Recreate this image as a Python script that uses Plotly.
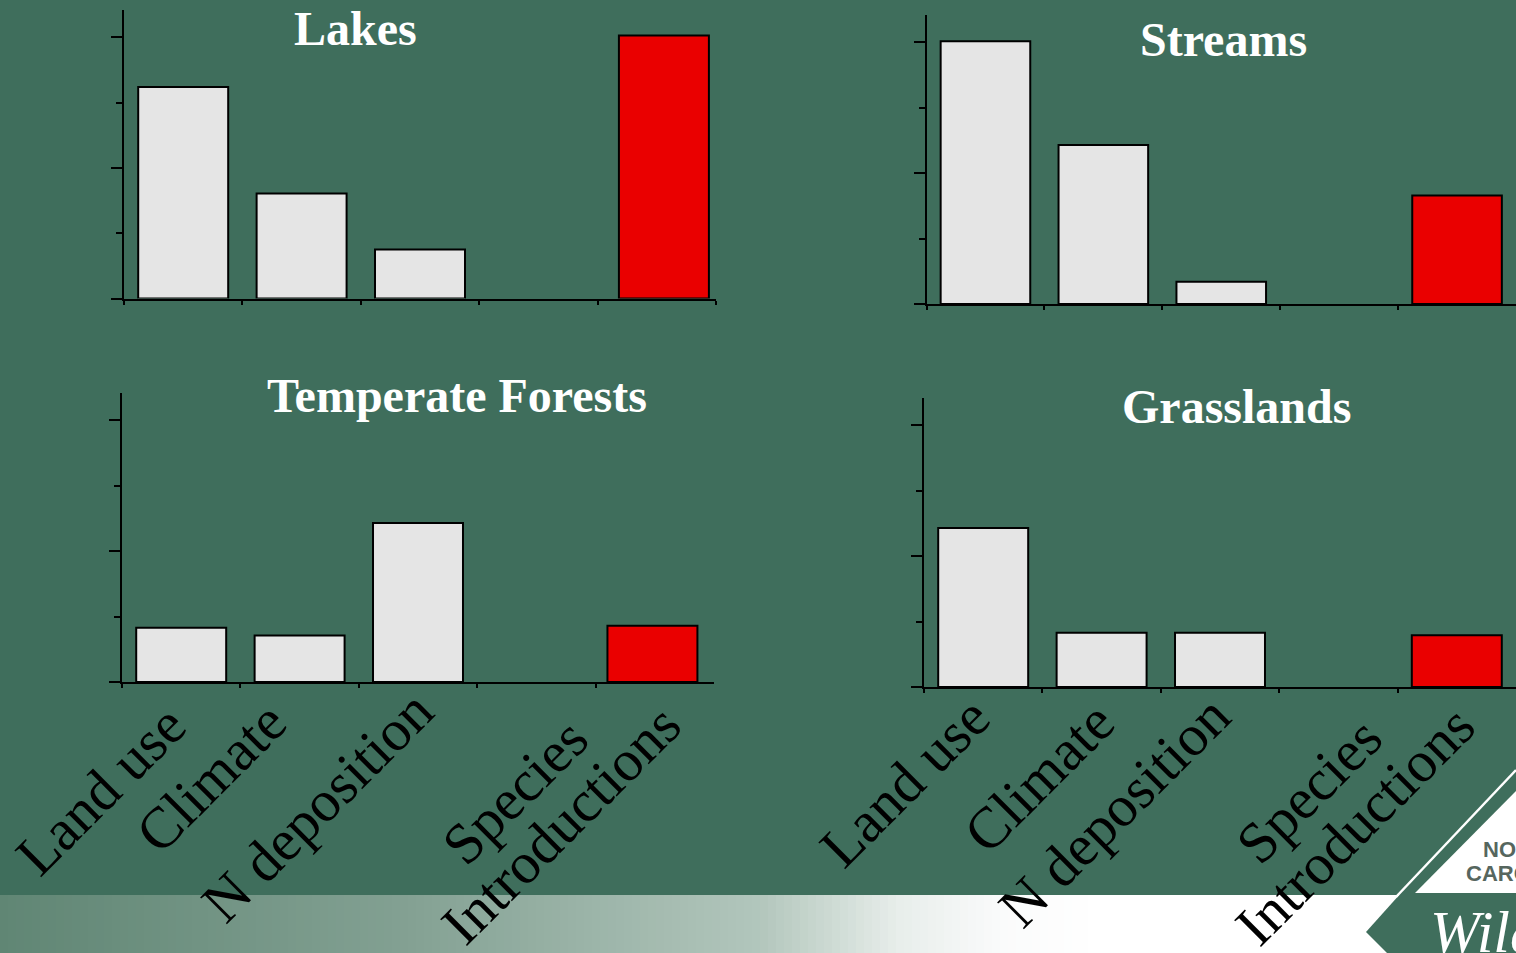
import numpy as np
import plotly.graph_objects as go

# ---------------- data ----------------
categories = ["Land use", "Climate", "N deposition", "Biotic exchange", "Species Introductions"]
lakes = [3.24, 1.61, 0.75, None, 4.03]
streams = [4.02, 2.43, 0.34, None, 1.66]
forests = [0.83, 0.71, 2.43, None, 0.86]
grasslands = [2.43, 0.83, 0.83, None, 0.79]
panel_titles = ["Lakes", "Streams", "Temperate Forests", "Grasslands"]
bar_colors = ["#e5e5e5", "#e5e5e5", "#e5e5e5", "#e5e5e5", "#ea0000"]

BG = "#3f6e5c"
W, H = 1516, 953


def pxx(p):
    return p / W


def pxy(p):
    return 1 - p / H


fig = go.Figure()

BW = 0.76
panels = [
    # (values, axis suffix, x px domain, y px domain (top, bottom), bar offsets)
    (lakes, "", (124, 716), (10, 298.5), [-BW / 2] * 4 + [-BW / 2 + 0.06]),
    (streams, "2", (926.5, 1516), (15, 304), [-BW / 2] * 5),
    (forests, "3", (122, 714), (393, 682), [-BW / 2] * 4 + [-BW / 2 - 0.02]),
    (grasslands, "4", (924, 1516), (398, 687), [-BW / 2] * 5),
]

for vals, sfx, (x0, x1), (yt, yb), offs in panels:
    fig.add_trace(go.Bar(
        x=categories, y=vals,
        xaxis="x" + sfx, yaxis="y" + sfx,
        width=BW, offset=offs,
        marker=dict(color=bar_colors, line=dict(color="black", width=2)),
        hoverinfo="skip",
    ))
    fig.layout["xaxis" + sfx] = dict(
        domain=[pxx(x0), min(1.0, pxx(x1))], anchor="y" + sfx,
        type="category", range=[-0.5, 4.5],
        showline=True, linecolor="black", linewidth=2,
        ticks="outside", tickson="boundaries", ticklen=4, tickwidth=2, tickcolor="black",
        showticklabels=False, showgrid=False, zeroline=False, fixedrange=True,
    )
    fig.layout["yaxis" + sfx] = dict(
        domain=[pxy(yb), pxy(yt)], anchor="x" + sfx,
        range=[0, 4.42],
        showline=True, linecolor="black", linewidth=2,
        ticks="outside", tick0=0, dtick=2, ticklen=11, tickwidth=2, tickcolor="black",
        minor=dict(ticks="outside", tick0=0, dtick=1, ticklen=6, tickwidth=2, tickcolor="black"),
        showticklabels=False, showgrid=False, zeroline=False, fixedrange=True,
    )

annotations = []

# panel titles
title_pos = [(355.5, 28), (1223.5, 40), (457, 396), (1236.5, 406)]
for t, (cx, cy) in zip(panel_titles, title_pos):
    annotations.append(dict(
        text=t, xref="paper", yref="paper", x=pxx(cx), y=pxy(cy),
        xanchor="center", yanchor="middle", showarrow=False,
        font=dict(family="Liberation Serif, serif", size=48, color="white", weight="bold"),
    ))

# rotated category labels (text, category index, dx, dy relative to category centre on baseline)
label_specs_left = [
    ("Land use", 0, -81, 108),
    ("Climate", 1, -89, 95),
    ("N deposition", 2, -101, 124),
    ("Species", 4, -140, 109),
    ("Introductions", 4, -94, 142),
]
label_specs_right = [
    ("Land use", 0, -79, 95),
    ("Climate", 1, -63, 90),
    ("N deposition", 2, -106, 124),
    ("Species", 4, -148, 103),
    ("Introductions", 4, -102, 138),
]
for sfx, specs in (("3", label_specs_left), ("4", label_specs_right)):
    for txt, ci, dx, dy in specs:
        annotations.append(dict(
            text=txt, xref="x" + sfx, yref="y" + sfx, x=categories[ci], y=0,
            xshift=dx, yshift=-dy, xanchor="center", yanchor="middle",
            textangle=-45, showarrow=False,
            font=dict(family="Liberation Serif, serif", size=58, color="black"),
        ))

# ---------------- decoration: bottom strip and logo ----------------
shapes = []
stops_x = [0, 400, 760, 830, 900, 1000, 1100]
stops_c = [(96, 134, 116), (130, 160, 146), (178, 198, 188), (205, 218, 211),
           (232, 238, 235), (250, 251, 251), (255, 255, 255)]
step = 8
for xs in range(0, 1100, step):
    xm = xs + step / 2
    c = [int(round(np.interp(xm, stops_x, [s[k] for s in stops_c]))) for k in range(3)]
    shapes.append(dict(type="rect", xref="paper", yref="paper", layer="below",
                       x0=pxx(xs), x1=pxx(min(xs + step + 1, 1516)), y0=pxy(953), y1=pxy(895),
                       line=dict(width=0), fillcolor=f"rgb({c[0]},{c[1]},{c[2]})"))
shapes.append(dict(type="rect", xref="paper", yref="paper", layer="below",
                   x0=pxx(1100), x1=1, y0=pxy(953), y1=pxy(895),
                   line=dict(width=0), fillcolor="white"))


def path_px(pts):
    s = "M " + " L ".join(f"{pxx(a):.5f},{pxy(b):.5f}" for a, b in pts) + " Z"
    return s


# green lower logo block
shapes.append(dict(type="path", xref="paper", yref="paper", layer="below",
                   path=path_px([(1401, 893), (1516, 893), (1516, 953), (1387, 953), (1366, 932)]),
                   fillcolor=BG, line=dict(width=0)))
# white triangle
shapes.append(dict(type="path", xref="paper", yref="paper", layer="below",
                   path=path_px([(1516, 791), (1415, 893), (1516, 893)]),
                   fillcolor="white", line=dict(width=0)))
# thin white diagonal
shapes.append(dict(type="line", xref="paper", yref="paper", layer="below",
                   x0=pxx(1516), y0=pxy(770), x1=pxx(1396), y1=pxy(897),
                   line=dict(color="white", width=2.5)))

annotations.append(dict(text="<b>NORTH</b>", xref="paper", yref="paper", x=pxx(1481), y=pxy(849),
                        xanchor="left", yanchor="middle", showarrow=False,
                        font=dict(family="Liberation Sans Narrow, Liberation Sans, sans-serif", size=22, color="#56665e")))
annotations.append(dict(text="<b>CAROLINA</b>", xref="paper", yref="paper", x=pxx(1464), y=pxy(873),
                        xanchor="left", yanchor="middle", showarrow=False,
                        font=dict(family="Liberation Sans Narrow, Liberation Sans, sans-serif", size=22, color="#56665e")))
annotations.append(dict(text="<i>Wildlife</i>", xref="paper", yref="paper", x=pxx(1428), y=pxy(897),
                        xanchor="left", yanchor="top", showarrow=False,
                        font=dict(family="Liberation Serif, serif", size=60, color="white")))

fig.update_layout(
    width=W, height=H, margin=dict(l=0, r=0, t=0, b=0),
    paper_bgcolor=BG, plot_bgcolor="rgba(0,0,0,0)",
    showlegend=False, annotations=annotations, shapes=shapes,
)

fig.write_html(
    "out.html",
    config={"displayModeBar": False},
    post_script=(
        "document.body.style.margin='0';"
        "document.body.style.padding='0';"
        "document.body.style.overflow='hidden';"
        f"document.body.style.background='{BG}';"
    ),
)
